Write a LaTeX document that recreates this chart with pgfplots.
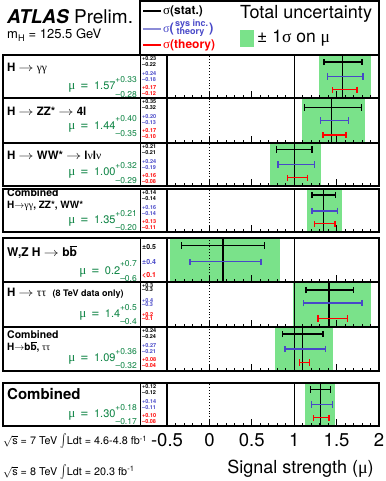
\documentclass[border=0pt]{standalone}
\usepackage{fontspec}
\setmainfont{TeX Gyre Heros}
\newfontfamily\grk{Liberation Serif}
\usepackage{graphicx}
\usepackage{pgfplots}
\pgfplotsset{compat=1.18}

\definecolor{band}{RGB}{122,226,138}
\definecolor{sysblue}{RGB}{72,72,200}
\definecolor{legblue}{RGB}{140,140,215}
\definecolor{thred}{RGB}{255,0,0}
\definecolor{mugreen}{RGB}{10,130,65}

\newcommand\fs[1]{\fontsize{#1}{#1}\selectfont}
\newcommand\gk[1]{{\grk\mdseries\upshape #1}}
\newcommand\ar{\scalebox{1.25}[1]{$\rightarrow$}}
\newcommand\errs[2]{\raisebox{-0.66em}{\fs{8.5}--#2}\llap{\raisebox{0.68em}{\fs{8.5}+#1}}}
\newcommand\muline[4]{\node[anchor=base east, inner sep=0pt, text=mugreen] at (137pt,#1pt)
  {\fs{11}{\fs{13}\gk{μ}}\hspace{5pt}{\fs{14}=}\hspace{5.5pt}#2\errs{#3}{#4}};}

\tikzset{num/.style={anchor=west, inner sep=0pt, font=\fs{5.5}\bfseries},
  lab/.style={anchor=west, inner sep=0pt}}
% six small numbers: stat, sys, theory (+/-), placed below the panel top
\newcommand\nums[7]{%
  \node[num, yshift=-4pt] at (142pt,#1pt) {+#2};
  \node[num, yshift=-9.6pt] at (142pt,#1pt) {--#3};
  \node[num, text=sysblue, yshift=-18.6pt] at (142pt,#1pt) {+#4};
  \node[num, text=sysblue, yshift=-24.3pt] at (142pt,#1pt) {--#5};
  \node[num, text=thred, yshift=-32.6pt] at (142pt,#1pt) {+#6};
  \node[num, text=thred, yshift=-38.6pt] at (142pt,#1pt) {--#7};}
\newcommand\lbox[2]{\draw[line width=1.2pt] (3pt,#2pt) rectangle (167pt,#1pt);
  \draw[line width=0.9pt] (140pt,#2pt) -- (140pt,#1pt);}

% error bar: color, y, mu, plus, minus
\newcommand\ebar[5]{\addplot[#1, line width=1.3pt, mark=none,
  error bars/.cd, x dir=both, x explicit,
  error bar style={#1, line width=1.3pt},
  error mark options={rotate=90, #1, mark size=3.2pt, line width=1.3pt}]
  coordinates {(#3,#2) += (#4,0) -= (#5,0)};}
% total band lo, hi, central value
\newcommand\band[3]{\addplot[fill=band, draw=none] coordinates {(#1,0) (#1,1) (#2,1) (#2,0)} -- cycle;
  \addplot[black, line width=0.9pt] coordinates {(1,0) (1,1)};
  \addplot[black, line width=0.9pt, dotted] coordinates {(0,0) (0,1)};
  \addplot[black, line width=1.2pt] coordinates {(#3,0) (#3,1)};}

\pgfplotsset{
  panel/.style={
    scale only axis, width=212pt, anchor=south west,
    xmin=-0.5, xmax=2, ymin=0, ymax=1,
    ytick=\empty, xtick={-0.5,0,0.5,1,1.5,2}, minor x tick num=4,
    xticklabels={}, xtick pos=left, tick align=inside,
    major tick length=7pt, minor tick length=3pt,
    tick style={black, line width=0.8pt},
    axis line style={line width=1.2pt},
    axis on top,
  },
}

\begin{document}
\begin{tikzpicture}
\path[use as bounding box] (0,0) rectangle (385pt,481pt);

% H -> gamma gamma
\begin{axis}[panel, at={(167pt,383pt)}, height=43pt]
  \band{1.29}{1.90}{1.57}
  \ebar{black}{0.84}{1.57}{0.23}{0.22}
  \ebar{sysblue}{0.50}{1.57}{0.24}{0.18}
  \ebar{thred}{0.19}{1.57}{0.17}{0.12}
\end{axis}
% H -> ZZ* -> 4l
\begin{axis}[panel, at={(167pt,338pt)}, height=45pt]
  \band{1.09}{1.84}{1.44}
  \ebar{black}{0.79}{1.44}{0.35}{0.32}
  \ebar{sysblue}{0.50}{1.44}{0.20}{0.13}
  \ebar{thred}{0.18}{1.44}{0.17}{0.10}
\end{axis}
% H -> WW*
\begin{axis}[panel, at={(167pt,295pt)}, height=43pt]
  \band{0.71}{1.32}{1.00}
  \ebar{black}{0.85}{1.00}{0.21}{0.21}
  \ebar{sysblue}{0.50}{1.00}{0.24}{0.19}
  \ebar{thred}{0.19}{1.00}{0.16}{0.08}
\end{axis}
% combined bosonic
\begin{axis}[panel, at={(167pt,249pt)}, height=43pt]
  \band{1.15}{1.56}{1.35}
  \ebar{black}{0.86}{1.35}{0.14}{0.14}
  \ebar{sysblue}{0.49}{1.35}{0.16}{0.14}
  \ebar{thred}{0.19}{1.35}{0.13}{0.11}
\end{axis}
% VH -> bb
\begin{axis}[panel, at={(167pt,199pt)}, height=44pt]
  \band{-0.47}{0.83}{0.16}
  \ebar{black}{0.83}{0.16}{0.49}{0.49}
  \ebar{sysblue}{0.46}{0.16}{0.45}{0.39}
\end{axis}
% H -> tau tau
\begin{axis}[panel, at={(167pt,154pt)}, height=45pt]
  \band{0.98}{1.91}{1.41}
  \ebar{black}{0.82}{1.41}{0.29}{0.27}
  \ebar{sysblue}{0.53}{1.41}{0.39}{0.30}
  \ebar{thred}{0.19}{1.41}{0.22}{0.13}
\end{axis}
% combined fermionic
\begin{axis}[panel, at={(167pt,110pt)}, height=44pt]
  \band{0.77}{1.46}{1.10}
  \ebar{black}{0.84}{1.10}{0.24}{0.24}
  \ebar{sysblue}{0.50}{1.10}{0.27}{0.21}
  \ebar{thred}{0.19}{1.10}{0.08}{0.04}
\end{axis}
% combined
\begin{axis}[panel, at={(167pt,55pt)}, height=43pt,
  xticklabels={-0.5,0,0.5,1,1.5,2},
  xticklabel style={font=\fs{18.5}, anchor=base, inner sep=0pt, yshift=-20.7pt},
  xlabel={Signal strength (\gk{μ})},
  xlabel style={at={(rel axis cs:0.976,0)}, anchor=base east, inner sep=0pt,
    yshift=-48pt, font=\fs{18}}]
  \band{1.13}{1.48}{1.31}
  \ebar{black}{0.85}{1.31}{0.12}{0.12}
  \ebar{sysblue}{0.50}{1.31}{0.14}{0.11}
  \ebar{thred}{0.19}{1.31}{0.10}{0.08}
\end{axis}

% header and legend
\node[anchor=base west, inner sep=0pt] at (7pt,457.7pt)
  {\fs{19}{\bfseries\itshape ATLAS} Prelim.};
\node[anchor=base west, inner sep=0pt] at (7pt,442pt)
  {\fs{13}m\textsubscript{H} = 125.5 GeV};
\draw[line width=1.2pt] (140pt,426pt) rectangle (379pt,480pt);
\draw[black, line width=1.1pt] (143pt,470pt) -- (161pt,470pt);
\node[lab] at (163pt,470pt) {\fs{13}\gk{σ}\bfseries\fs{12}(stat.)};
\draw[legblue, line width=1.1pt] (143pt,452pt) -- (161pt,452pt);
\node[lab, text=sysblue] at (163pt,452pt) {\fs{12}\gk{σ}\bfseries\fs{13}(};
\node[lab, text=sysblue, font=\fs{9}\bfseries] at (175pt,457.3pt) {sys inc.};
\node[lab, text=sysblue, font=\fs{9}\bfseries] at (176.5pt,448.5pt) {theory};
\node[lab, text=sysblue, font=\fs{13}\bfseries] at (209pt,452pt) {)};
\draw[thred, line width=1.1pt] (143pt,436pt) -- (161pt,436pt);
\node[lab, text=thred] at (163pt,436pt) {\fs{13}\gk{σ}\bfseries\fs{12}(theory)};
\node[lab] at (240pt,467pt) {\fs{18}Total uncertainty};
\fill[band] (240pt,434.3pt) rectangle (254.3pt,451pt);
\node[lab] at (257pt,443pt) {\fs{17.5}± 1\gk{σ} on \gk{μ}};

% left boxes
\lbox{426}{383}
\node[lab] at (7pt,412.7pt) {\fs{11.5}\bfseries H \ar{} \gk{γγ}};
\muline{391}{1.57}{0.33}{0.28}
\nums{426}{0.23}{0.22}{0.24}{0.18}{0.17}{0.12}

\lbox{383}{338}
\node[lab] at (7pt,370pt) {\fs{11.5}\bfseries H \ar{} ZZ* \ar{} 4l};
\muline{351.7}{1.44}{0.40}{0.35}
\nums{383}{0.35}{0.32}{0.20}{0.13}{0.17}{0.10}

\lbox{338}{295}
\node[lab] at (7pt,326pt) {\fs{11.5}\bfseries H \ar{} WW* \ar{} l\gk{ν}l\gk{ν}};
\muline{305}{1.00}{0.32}{0.29}
\nums{338}{0.21}{0.21}{0.24}{0.19}{0.16}{0.08}

\lbox{292}{249}
\node[lab] at (7pt,288pt) {\fs{10.5}\bfseries Combined};
\node[lab] at (7pt,275pt) {\fs{10}\bfseries H$\rightarrow$\gk{γγ}, ZZ*, WW*};
\muline{257.3}{1.35}{0.21}{0.20}
\nums{292}{0.14}{0.14}{0.16}{0.14}{0.13}{0.11}

\lbox{243}{199}
\node[lab] at (7pt,229.3pt) {\fs{12}\bfseries W,Z H \ar{} b$\overline{\hbox{b}}$};
\muline{206.7}{0.2}{0.7}{0.6}
\node[num, font=\fs{7}\bfseries] at (142pt,234.3pt) {±0.5};
\node[num, font=\fs{7}\bfseries, text=sysblue] at (142pt,219.3pt) {±0.4};
\node[num, font=\fs{7}\bfseries, text=thred] at (142pt,206pt) {<0.1};

\lbox{199}{154}
\node[lab] at (7pt,187.7pt) {\fs{11.5}\bfseries H \ar{} \gk{ττ}\ \ \fs{9}(8 TeV data only)};
\muline{163.3}{1.4}{0.5}{0.4}
\node[num, yshift=-4pt] at (142pt,199pt) {+0.3};
\node[num, yshift=-8pt] at (142pt,199pt) {--0.3};
\node[num, text=sysblue, yshift=-18.7pt] at (142pt,199pt) {+0.4};
\node[num, text=sysblue, yshift=-22.7pt] at (142pt,199pt) {--0.3};
\node[num, text=thred, yshift=-32.3pt] at (142pt,199pt) {+0.2};
\node[num, text=thred, yshift=-36.3pt] at (142pt,199pt) {--0.1};

\lbox{154}{110}
\node[lab] at (7pt,146.5pt) {\fs{10.5}\bfseries Combined};
\node[lab] at (7pt,133.8pt) {\fs{10}\bfseries H$\rightarrow$b$\overline{\hbox{b}}$, \gk{ττ}};
\muline{119.3}{1.09}{0.36}{0.32}
\nums{154}{0.24}{0.24}{0.27}{0.21}{0.08}{0.04}

\lbox{98}{55}
\node[lab] at (7pt,86.7pt) {\fs{15}\bfseries Combined};
\muline{63.3}{1.30}{0.18}{0.17}
\nums{98}{0.12}{0.12}{0.14}{0.11}{0.10}{0.08}

% luminosity
\node[anchor=base west, inner sep=0pt] at (3pt,36pt)
  {\fs{10.8}$\sqrt{\hbox{s}}$ = 7 TeV \scalebox{1}[1.35]{$\int$}Ldt = 4.6-4.8 fb\textsuperscript{-1}};
\node[anchor=base west, inner sep=0pt] at (3pt,5.5pt)
  {\fs{10.8}$\sqrt{\hbox{s}}$ = 8 TeV \scalebox{1}[1.35]{$\int$}Ldt = 20.3 fb\textsuperscript{-1}};
\end{tikzpicture}
\end{document}
